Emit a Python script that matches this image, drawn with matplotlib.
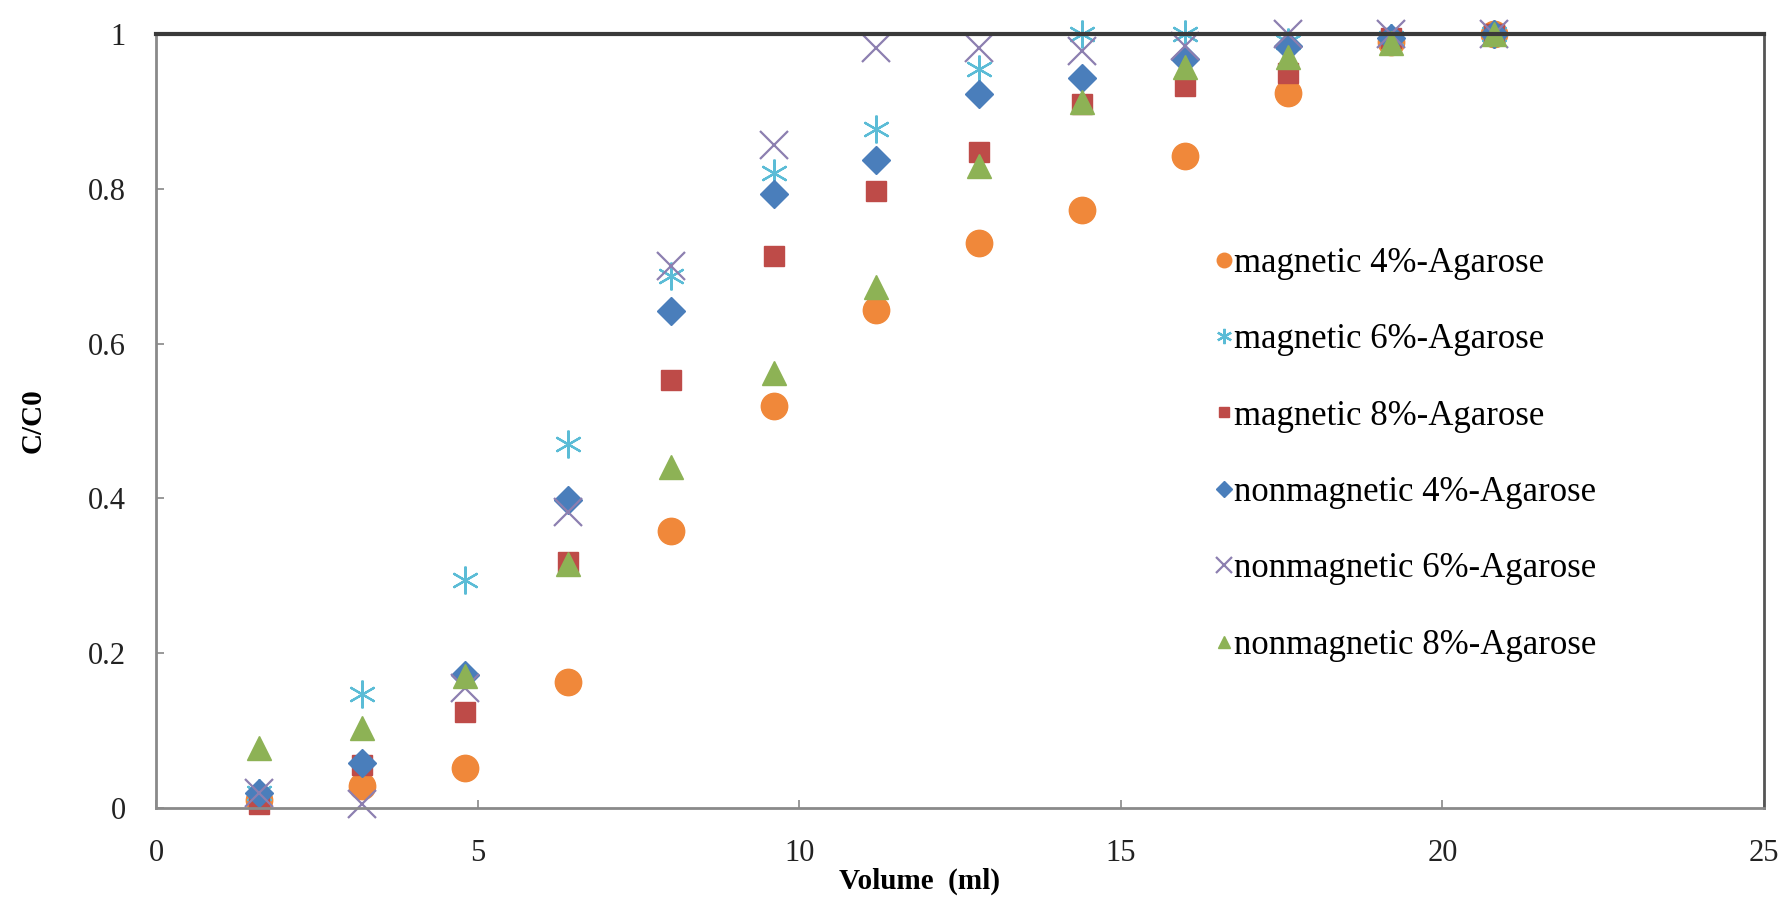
import matplotlib
matplotlib.use("Agg")
import matplotlib.pyplot as plt
from matplotlib.ticker import FuncFormatter

# volume (ml) at which samples were taken
volume = [1.6, 3.2, 4.8, 6.4, 8.0, 9.6, 11.2, 12.8, 14.4, 16.0, 17.6, 19.2, 20.8]

mag_4 = [0.01, 0.028, 0.052, 0.163, 0.358, 0.52, 0.644, 0.73, 0.773, 0.842, 0.924, 0.99, 1.0]
mag_6 = [0.02, 0.147, 0.295, 0.47, 0.688, 0.82, 0.877, 0.955, 1.0, 1.0, 0.99, 0.995, 1.0]
mag_8 = [0.005, 0.055, 0.124, 0.318, 0.553, 0.713, 0.797, 0.848, 0.91, 0.933, 0.95, 0.995, 1.0]
nonmag_4 = [0.02, 0.058, 0.172, 0.398, 0.642, 0.793, 0.837, 0.922, 0.943, 0.968, 0.985, 0.995, 1.0]
nonmag_6 = [0.02, 0.005, 0.155, 0.383, 0.70, 0.857, 0.982, 0.982, 0.978, 0.985, 1.0, 1.0, 1.0]
nonmag_8 = [0.077, 0.103, 0.17, 0.315, 0.44, 0.562, 0.673, 0.83, 0.912, 0.957, 0.97, 0.988, 1.0]

labels = ["magnetic 4%-Agarose", "magnetic 6%-Agarose", "magnetic 8%-Agarose",
          "nonmagnetic 4%-Agarose", "nonmagnetic 6%-Agarose", "nonmagnetic 8%-Agarose"]

plt.rcParams['font.family'] = ['Liberation Serif', 'DejaVu Serif']

fig = plt.figure(figsize=(17.9, 9.15), dpi=100)
ax = fig.add_axes([0.0872, 0.1169, 0.8983, 0.8459])

styles = [
    dict(marker='o', color='#F0883A', markersize=19, linestyle='none'),
    dict(marker=(6, 2, 0), color='#5BBCD6', markersize=20, markeredgewidth=1.6, linestyle='none'),
    dict(marker='s', color='#BE4B48', markersize=14, linestyle='none'),
    dict(marker='D', color='#4A7EBB', markersize=14, linestyle='none'),
    dict(marker='x', color='#8C7FB0', markersize=20, markeredgewidth=1.6, linestyle='none'),
    dict(marker='^', color='#8DB255', markersize=17, linestyle='none'),
]

series = [mag_4, mag_6, mag_8, nonmag_4, nonmag_6, nonmag_8]
for vals, lab, st in zip(series, labels, styles):
    ax.plot(volume, vals, label=lab, clip_on=False, **st)

ax.set_xlim(0, 25)
ax.set_ylim(0, 1)
ax.set_xticks([0, 5, 10, 15, 20, 25])
ax.set_yticks([0, 0.2, 0.4, 0.6, 0.8, 1.0])
ax.yaxis.set_major_formatter(FuncFormatter(lambda v, p: "%g" % v))
ax.tick_params(direction='in', length=6, width=1.2, color='#888888',
               labelsize=22, labelcolor='#222222', pad=22)

for side in ['left', 'bottom']:
    ax.spines[side].set_color('#8a8a8a')
    ax.spines[side].set_linewidth(2)
ax.spines['top'].set_color('#3a3a3a')
ax.spines['top'].set_linewidth(3)
ax.spines['right'].set_color('#555555')
ax.spines['right'].set_linewidth(2)

ax.set_xlabel("Volume  (ml)", fontsize=21, fontweight='bold')
ax.set_ylabel("C/C0", fontsize=21, fontweight='bold')
ax.xaxis.set_label_coords(0.475, -0.077)
ax.yaxis.set_label_coords(-0.068, 0.5)

leg = ax.legend(loc='center left', bbox_to_anchor=(0.659, 0.457), frameon=False,
                fontsize=25, markerscale=0.55, handlelength=0.45, handletextpad=0.08,
                labelspacing=1.25, borderaxespad=0, borderpad=0)

fig.savefig("out.png", dpi=100)
